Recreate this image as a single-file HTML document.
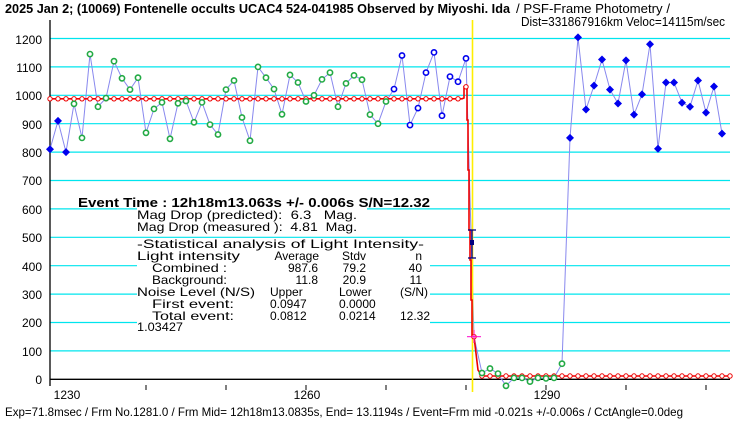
<!DOCTYPE html>
<html><head><meta charset="utf-8"><style>
html,body{margin:0;padding:0;background:#fff;}
svg{display:block;}
text{font-family:"Liberation Sans","Noto Sans CJK JP",sans-serif;fill:#000;}
.m{font-family:"Liberation Mono","Noto Sans CJK JP",monospace;font-size:12px;}
</style></head><body>
<svg width="740" height="425" viewBox="0 0 740 425" xmlns="http://www.w3.org/2000/svg">
<defs>
<circle id="g" r="2.6" fill="#fff" stroke="#22aa44" stroke-width="1.6"/>
<circle id="h" r="2.6" fill="#fff" stroke="#0000ee" stroke-width="1.6"/>
<polygon id="d" points="0,-4 4,0 0,4 -4,0" fill="#0000ee"/>
<circle id="r" r="2.2" fill="#fff" stroke="#ee0000" stroke-width="1"/>
</defs>
<rect width="740" height="425" fill="#fff"/>
<!-- titles -->
<text x="5" y="13" font-size="12.5" font-weight="bold" textLength="505" lengthAdjust="spacingAndGlyphs">2025 Jan 2; (10069) Fontenelle occults UCAC4 524-041985 Observed by Miyoshi. Ida</text>
<text x="516" y="13" font-size="12.5" textLength="154" lengthAdjust="spacingAndGlyphs">/ PSF-Frame Photometry /</text>
<text x="521" y="26" font-size="12.5" textLength="204" lengthAdjust="spacingAndGlyphs">Dist=331867916km Veloc=14115m/sec</text>
<!-- grid -->
<g stroke="#00e5ee" stroke-width="1.2">
<line x1="50" y1="350.9" x2="730" y2="350.9"/>
<line x1="50" y1="322.5" x2="730" y2="322.5"/>
<line x1="50" y1="294.1" x2="730" y2="294.1"/>
<line x1="50" y1="265.7" x2="730" y2="265.7"/>
<line x1="50" y1="237.3" x2="730" y2="237.3"/>
<line x1="50" y1="208.9" x2="730" y2="208.9"/>
<line x1="50" y1="180.5" x2="730" y2="180.5"/>
<line x1="50" y1="152.1" x2="730" y2="152.1"/>
<line x1="50" y1="123.7" x2="730" y2="123.7"/>
<line x1="50" y1="95.3" x2="730" y2="95.3"/>
<line x1="50" y1="66.9" x2="730" y2="66.9"/>
<line x1="50" y1="38.5" x2="730" y2="38.5"/>
</g>
<!-- y labels -->
<g font-size="12" text-anchor="end">
<text x="42" y="384">0</text><text x="42" y="356">100</text><text x="42" y="327">200</text><text x="42" y="299">300</text><text x="42" y="271">400</text><text x="42" y="242">500</text><text x="42" y="214">600</text><text x="42" y="185">700</text><text x="42" y="157">800</text><text x="42" y="129">900</text><text x="42" y="100">1000</text><text x="42" y="72">1100</text><text x="42" y="44">1200</text>
</g>
<!-- axes -->
<line x1="50" y1="20" x2="50" y2="386" stroke="#000" stroke-width="1.3"/>
<line x1="50" y1="379.3" x2="730" y2="379.3" stroke="#000" stroke-width="1.3"/>
<g stroke="#000" stroke-width="1">
<line x1="146" y1="385" x2="146" y2="390"/><line x1="226" y1="385" x2="226" y2="390"/><line x1="306" y1="385" x2="306" y2="390"/><line x1="386" y1="385" x2="386" y2="390"/><line x1="466" y1="385" x2="466" y2="390"/><line x1="546" y1="385" x2="546" y2="390"/><line x1="626" y1="385" x2="626" y2="390"/><line x1="706" y1="385" x2="706" y2="390"/>
</g>
<g font-size="12" text-anchor="middle">
<text x="67" y="399">1230</text><text x="307" y="399">1260</text><text x="547" y="399">1290</text>
</g>
<!-- text box backgrounds -->
<rect x="78" y="195" width="352" height="13" fill="#fff"/>
<rect x="137" y="208" width="230" height="26" fill="#fff"/>
<rect x="137" y="239" width="293" height="94" fill="#fff"/>
<!-- text block -->
<text x="78" y="207" font-size="13" font-weight="bold" textLength="352" lengthAdjust="spacingAndGlyphs">Event Time : 12h18m13.063s  +/- 0.006s  S/N=12.32</text>
<g class="m">
<text x="137" y="219" textLength="220" lengthAdjust="spacingAndGlyphs" xml:space="preserve">Mag Drop (predicted):  6.3   Mag.</text>
<text x="137" y="231" textLength="220" lengthAdjust="spacingAndGlyphs" xml:space="preserve">Mag Drop (measured ):  4.81  Mag.</text>
<text x="137" y="248" textLength="287" lengthAdjust="spacingAndGlyphs">-Statistical analysis of Light Intensity-</text>
<text x="137" y="260" textLength="103" lengthAdjust="spacingAndGlyphs">Light intensity</text>
<text x="152" y="272" textLength="75" lengthAdjust="spacingAndGlyphs">Combined  :</text>
<text x="152" y="284" textLength="75" lengthAdjust="spacingAndGlyphs">Background:</text>
<text x="137" y="296" textLength="118" lengthAdjust="spacingAndGlyphs">Noise Level (N/S)</text>
<text x="152" y="308" textLength="82" lengthAdjust="spacingAndGlyphs">First event:</text>
<text x="152" y="320" textLength="82" lengthAdjust="spacingAndGlyphs">Total event:</text>
<text x="137" y="331" textLength="46" lengthAdjust="spacingAndGlyphs">1.03427</text>
<g text-anchor="end">
<text x="319" y="260">Average</text><text x="366" y="260">Stdv</text><text x="422" y="260">n</text>
<text x="318" y="272">987.6</text><text x="366" y="272">79.2</text><text x="422" y="272">40</text>
<text x="318" y="284">11.8</text><text x="366" y="284">20.9</text><text x="422" y="284">11</text>
<text x="430" y="320">12.32</text>
</g>
<text x="270" y="296">Upper</text><text x="339" y="296">Lower</text><text x="400" y="296">(S/N)</text>
<text x="270" y="308">0.0947</text><text x="339" y="308">0.0000</text>
<text x="270" y="320">0.0812</text><text x="339" y="320">0.0214</text>
</g>
<!-- data line -->
<polyline fill="none" stroke="#8888ee" stroke-width="1" points="50,149.3 58,120.9 66,152.1 74,103.8 82,137.9 90,54.1 98,106.7 106,98.1 114,61.2 122,78.3 130,89.6 138,77.7 146,132.8 154,108.9 162,102.4 170,138.8 178,103.3 186,101.0 194,122.3 202,102.4 210,124.6 218,134.5 226,89.6 234,80.5 242,117.5 250,140.7 258,66.9 266,77.7 274,89.1 282,114.3 290,74.9 298,82.5 306,101.5 314,95.3 322,79.4 330,72.6 338,106.7 346,83.4 354,75.4 362,79.7 370,114.6 378,123.7 386,101.5 394,89.1 402,55.5 410,125.1 418,108.1 426,72.6 434,52.4 442,115.7 450,76.6 458,81.7 466,58.4 474,336.7 482,373.0 490,368.5 498,373.6 506,385.8 514,377.9 522,377.9 530,381.6 538,377.9 546,378.4 554,377.9 562,363.7 570,137.9 578,37.4 586,109.5 594,85.6 602,59.5 610,89.6 618,103.5 626,60.4 634,114.6 642,94.4 650,44.2 658,148.7 666,82.5 674,82.5 682,102.7 690,106.7 698,80.5 706,112.6 714,86.5 722,133.6"/>
<!-- yellow event line -->
<line x1="472.5" y1="20" x2="472.5" y2="392" stroke="#ffee00" stroke-width="1.6"/>
<!-- red model -->
<path d="M50,98.8 H462 L464,98 V86.8 H467 V120 H468 V170 H469 V230 H470 V260 H471 V300 H472 V336.7 L474,336.7 L478,370 L482,376 H730" fill="none" stroke="#ee0000" stroke-width="1.6"/>
<g>
<use href="#r" x="50" y="98.8"/><use href="#r" x="58" y="98.8"/><use href="#r" x="66" y="98.8"/><use href="#r" x="74" y="98.8"/><use href="#r" x="82" y="98.8"/><use href="#r" x="90" y="98.8"/><use href="#r" x="98" y="98.8"/><use href="#r" x="106" y="98.8"/><use href="#r" x="114" y="98.8"/><use href="#r" x="122" y="98.8"/><use href="#r" x="130" y="98.8"/><use href="#r" x="138" y="98.8"/><use href="#r" x="146" y="98.8"/><use href="#r" x="154" y="98.8"/><use href="#r" x="162" y="98.8"/><use href="#r" x="170" y="98.8"/><use href="#r" x="178" y="98.8"/><use href="#r" x="186" y="98.8"/><use href="#r" x="194" y="98.8"/><use href="#r" x="202" y="98.8"/><use href="#r" x="210" y="98.8"/><use href="#r" x="218" y="98.8"/><use href="#r" x="226" y="98.8"/><use href="#r" x="234" y="98.8"/><use href="#r" x="242" y="98.8"/><use href="#r" x="250" y="98.8"/><use href="#r" x="258" y="98.8"/><use href="#r" x="266" y="98.8"/><use href="#r" x="274" y="98.8"/><use href="#r" x="282" y="98.8"/><use href="#r" x="290" y="98.8"/><use href="#r" x="298" y="98.8"/><use href="#r" x="306" y="98.8"/><use href="#r" x="314" y="98.8"/><use href="#r" x="322" y="98.8"/><use href="#r" x="330" y="98.8"/><use href="#r" x="338" y="98.8"/><use href="#r" x="346" y="98.8"/><use href="#r" x="354" y="98.8"/><use href="#r" x="362" y="98.8"/><use href="#r" x="370" y="98.8"/><use href="#r" x="378" y="98.8"/><use href="#r" x="386" y="98.8"/><use href="#r" x="394" y="98.8"/><use href="#r" x="402" y="98.8"/><use href="#r" x="410" y="98.8"/><use href="#r" x="418" y="98.8"/><use href="#r" x="426" y="98.8"/><use href="#r" x="434" y="98.8"/><use href="#r" x="442" y="98.8"/><use href="#r" x="450" y="98.8"/><use href="#r" x="458" y="98.8"/><use href="#r" x="466" y="86.8"/>
<use href="#r" x="474" y="336.7"/><use href="#r" x="482" y="376"/><use href="#r" x="490" y="376"/><use href="#r" x="498" y="376"/><use href="#r" x="506" y="376"/><use href="#r" x="514" y="376"/><use href="#r" x="522" y="376"/><use href="#r" x="530" y="376"/><use href="#r" x="538" y="376"/><use href="#r" x="546" y="376"/><use href="#r" x="554" y="376"/><use href="#r" x="562" y="376"/><use href="#r" x="570" y="376"/><use href="#r" x="578" y="376"/><use href="#r" x="586" y="376"/><use href="#r" x="594" y="376"/><use href="#r" x="602" y="376"/><use href="#r" x="610" y="376"/><use href="#r" x="618" y="376"/><use href="#r" x="626" y="376"/><use href="#r" x="634" y="376"/><use href="#r" x="642" y="376"/><use href="#r" x="650" y="376"/><use href="#r" x="658" y="376"/><use href="#r" x="666" y="376"/><use href="#r" x="674" y="376"/><use href="#r" x="682" y="376"/><use href="#r" x="690" y="376"/><use href="#r" x="698" y="376"/><use href="#r" x="706" y="376"/><use href="#r" x="714" y="376"/><use href="#r" x="722" y="376"/><use href="#r" x="730" y="376"/>
</g>
<!-- points -->
<use href="#d" x="50" y="149.3"/><use href="#d" x="58" y="120.9"/><use href="#d" x="66" y="152.1"/>
<use href="#g" x="74" y="103.8"/><use href="#g" x="82" y="137.9"/><use href="#g" x="90" y="54.1"/><use href="#g" x="98" y="106.7"/><use href="#g" x="106" y="98.1"/><use href="#g" x="114" y="61.2"/><use href="#g" x="122" y="78.3"/><use href="#g" x="130" y="89.6"/><use href="#g" x="138" y="77.7"/><use href="#g" x="146" y="132.8"/><use href="#g" x="154" y="108.9"/><use href="#g" x="162" y="102.4"/><use href="#g" x="170" y="138.8"/><use href="#g" x="178" y="103.3"/><use href="#g" x="186" y="101.0"/><use href="#g" x="194" y="122.3"/><use href="#g" x="202" y="102.4"/><use href="#g" x="210" y="124.6"/><use href="#g" x="218" y="134.5"/><use href="#g" x="226" y="89.6"/><use href="#g" x="234" y="80.5"/><use href="#g" x="242" y="117.5"/><use href="#g" x="250" y="140.7"/><use href="#g" x="258" y="66.9"/><use href="#g" x="266" y="77.7"/><use href="#g" x="274" y="89.1"/><use href="#g" x="282" y="114.3"/><use href="#g" x="290" y="74.9"/><use href="#g" x="298" y="82.5"/><use href="#g" x="306" y="101.5"/><use href="#g" x="314" y="95.3"/><use href="#g" x="322" y="79.4"/><use href="#g" x="330" y="72.6"/><use href="#g" x="338" y="106.7"/><use href="#g" x="346" y="83.4"/><use href="#g" x="354" y="75.4"/><use href="#g" x="362" y="79.7"/><use href="#g" x="370" y="114.6"/><use href="#g" x="378" y="123.7"/><use href="#g" x="386" y="101.5"/>
<use href="#h" x="394" y="89.1"/><use href="#h" x="402" y="55.5"/><use href="#h" x="410" y="125.1"/><use href="#h" x="418" y="108.1"/><use href="#h" x="426" y="72.6"/><use href="#h" x="434" y="52.4"/><use href="#h" x="442" y="115.7"/><use href="#h" x="450" y="76.6"/><use href="#h" x="458" y="81.7"/><use href="#h" x="466" y="58.4"/>
<use href="#g" x="482" y="373.0"/><use href="#g" x="490" y="368.5"/><use href="#g" x="498" y="373.6"/><use href="#g" x="506" y="385.8"/><use href="#g" x="514" y="377.9"/><use href="#g" x="522" y="377.9"/><use href="#g" x="530" y="381.6"/><use href="#g" x="538" y="377.9"/><use href="#g" x="546" y="378.4"/><use href="#g" x="554" y="377.9"/><use href="#g" x="562" y="363.7"/>
<use href="#d" x="570" y="137.9"/><use href="#d" x="578" y="37.4"/><use href="#d" x="586" y="109.5"/><use href="#d" x="594" y="85.6"/><use href="#d" x="602" y="59.5"/><use href="#d" x="610" y="89.6"/><use href="#d" x="618" y="103.5"/><use href="#d" x="626" y="60.4"/><use href="#d" x="634" y="114.6"/><use href="#d" x="642" y="94.4"/><use href="#d" x="650" y="44.2"/><use href="#d" x="658" y="148.7"/><use href="#d" x="666" y="82.5"/><use href="#d" x="674" y="82.5"/><use href="#d" x="682" y="102.7"/><use href="#d" x="690" y="106.7"/><use href="#d" x="698" y="80.5"/><use href="#d" x="706" y="112.6"/><use href="#d" x="714" y="86.5"/><use href="#d" x="722" y="133.6"/>
<!-- error bar -->
<g stroke="#000080" stroke-width="1.3">
<line x1="472" y1="230" x2="472" y2="258"/><line x1="468" y1="230" x2="476" y2="230"/><line x1="468" y1="258" x2="476" y2="258"/>
</g>
<rect x="470" y="240" width="4" height="5" fill="#000080"/>
<g stroke="#ff00cc" stroke-width="1"><line x1="467" y1="336.7" x2="481" y2="336.7"/><line x1="474" y1="330" x2="474" y2="343"/></g>
<!-- footer -->
<text x="5" y="416" font-size="12" textLength="678" lengthAdjust="spacingAndGlyphs">Exp=71.8msec / Frm No.1281.0 / Frm Mid= 12h18m13.0835s,  End= 13.1194s / Event=Frm mid -0.021s +/-0.006s / CctAngle=0.0deg</text>
</svg>
</body></html>
